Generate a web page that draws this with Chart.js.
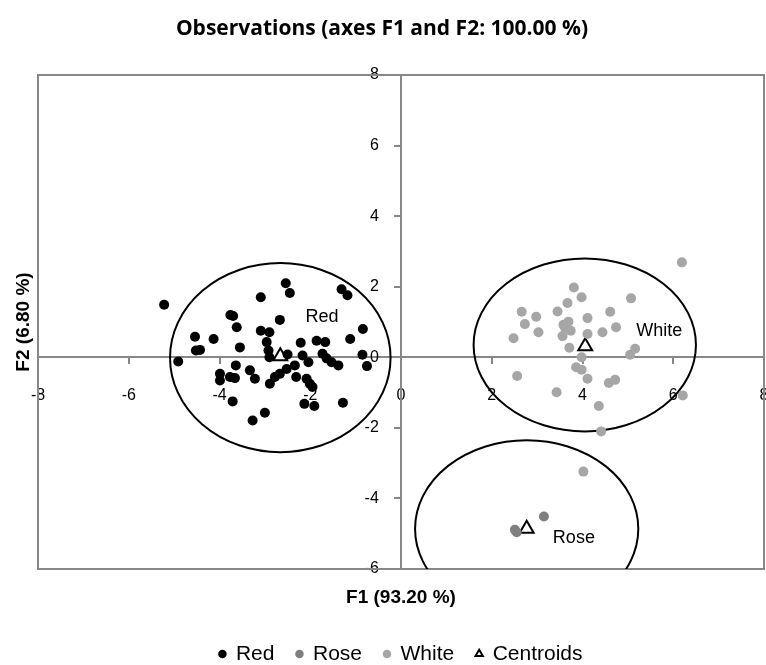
<!DOCTYPE html>
<html>
<head>
<meta charset="utf-8">
<script src="https://cdn.jsdelivr.net/npm/chart.js@4.4.1/dist/chart.umd.min.js"></script>
<style>
  html, body { margin: 0; padding: 0; background: #fff; }
</style>
</head>
<body>
<canvas id="graf_obs" width="766" height="665"></canvas>
<script>
// observations (F1, F2)
const redX = [-5.22, -2.54, -2.45, -3.09, -1.31, -1.18, -3.76, -3.70, -3.62, -2.67,
  -4.54, -4.13, -4.52, -4.43, -4.91, -3.55, -3.09, -2.90, -2.96, -2.92,
  -2.90, -2.21, -1.86, -1.67, -1.12, -0.84, -0.85, -0.75, -2.17, -2.04,
  -1.73, -1.64, -1.53, -1.38, -2.34, -2.52, -2.67, -2.78, -2.89, -3.64,
  -3.99, -3.99, -3.77, -3.66, -3.33, -3.22, -3.71, -2.31, -2.08, -2.01,
  -1.95, -2.13, -1.91, -1.28, -3.00, -3.27, -2.50]
const redY = [1.49, 2.10, 1.82, 1.70, 1.93, 1.76, 1.20, 1.17, 0.85, 1.06,
  0.58, 0.52, 0.19, 0.21, -0.12, 0.28, 0.75, 0.71, 0.43, 0.19,
  0.00, 0.41, 0.47, 0.43, 0.52, 0.80, 0.07, -0.25, 0.05, -0.14,
  0.10, -0.03, -0.14, -0.23, -0.23, -0.33, -0.47, -0.56, -0.75, -0.23,
  -0.47, -0.66, -0.56, -0.59, -0.37, -0.61, -1.25, -0.56, -0.61, -0.75,
  -0.84, -1.32, -1.38, -1.29, -1.57, -1.79, 0.08]

const roseX = [2.55, 2.51, 3.15]
const roseY = [-4.96, -4.89, -4.51]

const whiteX = [3.81, 3.98, 3.67, 5.07, 2.66, 3.45, 4.61, 2.98, 2.73, 3.69,
  3.61, 3.74, 4.11, 4.74, 3.03, 4.11, 4.44, 2.48, 3.56, 3.71,
  3.98, 5.05, 5.16, 3.86, 3.98, 4.11, 2.56, 4.58, 4.72, 3.43,
  4.36, 4.41, 6.21, 6.19, 4.02, 3.58]
const whiteY = [1.98, 1.70, 1.54, 1.67, 1.29, 1.30, 1.29, 1.15, 0.94, 1.01,
  0.85, 0.75, 1.11, 0.85, 0.71, 0.66, 0.71, 0.54, 0.60, 0.27,
  0.00, 0.07, 0.24, -0.28, -0.35, -0.61, -0.53, -0.73, -0.64, -0.99,
  -1.38, -2.10, -1.08, 2.69, -3.24, 0.92]

// centroids + their text labels
const centroidNames = ['Red', 'Rose', 'White']
const centroidX = [-2.66, 2.77, 4.06]
const centroidY = [0.03, -4.86, 0.31]
const labelX = [-1.74, 3.81, 5.69]
const labelY = [1.15, -5.12, 0.75]

// confidence ellipses (center and half axes, in axis units)
const ellipseCx = [-2.66, 2.77, 4.05]
const ellipseCy = [-0.01, -4.86, 0.35]
const ellipseRx = [2.43, 2.46, 2.45]
const ellipseRy = [2.68, 2.51, 2.45]

const xTickValues = [-8, -6, -4, -2, 0, 2, 4, 6, 8]
const yTickValues = [-6, -4, -2, 0, 2, 4, 6, 8]

const axisGray = '#878787'

function pontos(xs, ys) {
  return xs.map((x, i) => ({ x: x, y: ys[i] }))
}

// no scale may push the plot box inwards
function semMargem(s) {
  s.paddingLeft = 0
  s.paddingRight = 0
  s.paddingTop = 0
  s.paddingBottom = 0
}

Chart.defaults.font.family = '"Liberation Sans", Arial, sans-serif'
Chart.defaults.color = '#000'

const elipses = {
  id: 'elipses',
  beforeDatasetsDraw(chart) {
    const { ctx, chartArea, scales } = chart
    ctx.save()
    ctx.beginPath()
    ctx.rect(chartArea.left, chartArea.top, chartArea.right - chartArea.left, chartArea.bottom - chartArea.top)
    ctx.clip()
    ctx.strokeStyle = '#000'
    ctx.lineWidth = 2
    for (let i = 0; i < ellipseCx.length; i++) {
      const cx = scales.x.getPixelForValue(ellipseCx[i])
      const cy = scales.y.getPixelForValue(ellipseCy[i])
      const rx = Math.abs(scales.x.getPixelForValue(ellipseCx[i] + ellipseRx[i]) - cx)
      const ry = Math.abs(scales.y.getPixelForValue(ellipseCy[i] + ellipseRy[i]) - cy)
      ctx.beginPath()
      ctx.ellipse(cx, cy, rx, ry, 0, 0, Math.PI * 2)
      ctx.stroke()
    }
    ctx.restore()
  }
}

const rotulos = {
  id: 'rotulos',
  afterDatasetsDraw(chart) {
    const { ctx, scales } = chart
    ctx.save()
    ctx.font = '18px "Liberation Sans", Arial, sans-serif'
    ctx.fillStyle = '#000'
    ctx.textAlign = 'center'
    ctx.textBaseline = 'middle'
    for (let i = 0; i < centroidNames.length; i++) {
      ctx.fillText(centroidNames[i], scales.x.getPixelForValue(labelX[i]), scales.y.getPixelForValue(labelY[i]))
    }
    ctx.restore()
  }
}

// frame axes only draw the border of the plot box
function moldura(pos, min, max, extra) {
  return Object.assign({
    type: 'linear',
    position: pos,
    min: min,
    max: max,
    afterFit: semMargem,
    ticks: { display: false },
    grid: { display: false, drawTicks: false },
    border: { display: true, color: axisGray, width: 2 }
  }, extra || {})
}

new Chart(document.getElementById('graf_obs'), {
  type: 'scatter',
  data: {
    datasets: [
      {
        label: 'Red',
        data: pontos(redX, redY),
        backgroundColor: '#000',
        borderColor: '#000',
        borderWidth: 0,
        pointRadius: 5,
        pointStyle: 'circle'
      },
      {
        label: 'Rose',
        data: pontos(roseX, roseY),
        backgroundColor: '#7f7f7f',
        borderColor: '#7f7f7f',
        borderWidth: 0,
        pointRadius: 5,
        pointStyle: 'circle'
      },
      {
        label: 'White',
        data: pontos(whiteX, whiteY),
        backgroundColor: '#a6a6a6',
        borderColor: '#a6a6a6',
        borderWidth: 0,
        pointRadius: 5,
        pointStyle: 'circle'
      },
      {
        label: 'Centroids',
        data: pontos(centroidX, centroidY),
        backgroundColor: '#fff',
        borderColor: '#000',
        borderWidth: 2,
        pointRadius: 8,
        pointStyle: 'triangle'
      }
    ]
  },
  options: {
    responsive: false,
    animation: false,
    layout: { autoPadding: false, padding: { left: 0, right: 2, top: 0, bottom: -9.5 } },
    plugins: {
      tooltip: { enabled: false },
      title: {
        display: true,
        text: 'Observations (axes F1 and F2: 100.00 %)',
        font: { family: '"Open Sans", sans-serif', size: 21, weight: 'bold' },
        color: '#000',
        padding: { top: 16.4, bottom: 33.4 }
      },
      legend: {
        position: 'bottom',
        fullSize: false,
        labels: {
          usePointStyle: true,
          boxWidth: 6,
          boxHeight: 6,
          padding: 22,
          color: '#000',
          font: { size: 21 }
        }
      }
    },
    scales: {
      x: {
        type: 'linear',
        min: -8,
        max: 8,
        position: { y: 0 },
        afterBuildTicks: s => { s.ticks = xTickValues.map(v => ({ value: v })) },
        afterFit: s => { s.height = 0; semMargem(s) },
        ticks: { color: '#000', font: { size: 16 }, padding: 23 },
        grid: { drawOnChartArea: false, tickLength: 6, color: axisGray, lineWidth: 2 },
        border: { color: axisGray, width: 2 }
      },
      y: {
        type: 'linear',
        min: -6,
        max: 8,
        position: { x: 0 },
        afterBuildTicks: s => { s.ticks = yTickValues.map(v => ({ value: v })) },
        afterFit: s => { s.width = 0; semMargem(s) },
        // labels sit left of the axis line, Chart.js gives no gap for a value-positioned axis
        ticks: { color: '#000', font: { size: 16 }, callback: v => v + '     ' },
        grid: { drawOnChartArea: false, tickLength: 6, color: axisGray, lineWidth: 2 },
        border: { color: axisGray, width: 2 }
      },
      xTop: moldura('top', -8, 8, { axis: 'x' }),
      xBottom: moldura('bottom', -8, 8, {
        axis: 'x',
        title: {
          display: true,
          text: 'F1 (93.20 %)',
          color: '#000',
          font: { size: 19, weight: 'bold' },
          padding: { top: 17.6, bottom: 12.1 }
        }
      }),
      yLeft: moldura('left', -6, 8, {
        axis: 'y',
        title: {
          display: true,
          text: 'F2 (6.80 %)',
          color: '#000',
          font: { size: 19, weight: 'bold' },
          padding: { top: 12.6, bottom: 2.6 }
        }
      }),
      yRight: moldura('right', -6, 8, { axis: 'y', afterFit: s => { s.width = 0; semMargem(s) } })
    }
  },
  plugins: [elipses, rotulos]
})
</script>
</body>
</html>
